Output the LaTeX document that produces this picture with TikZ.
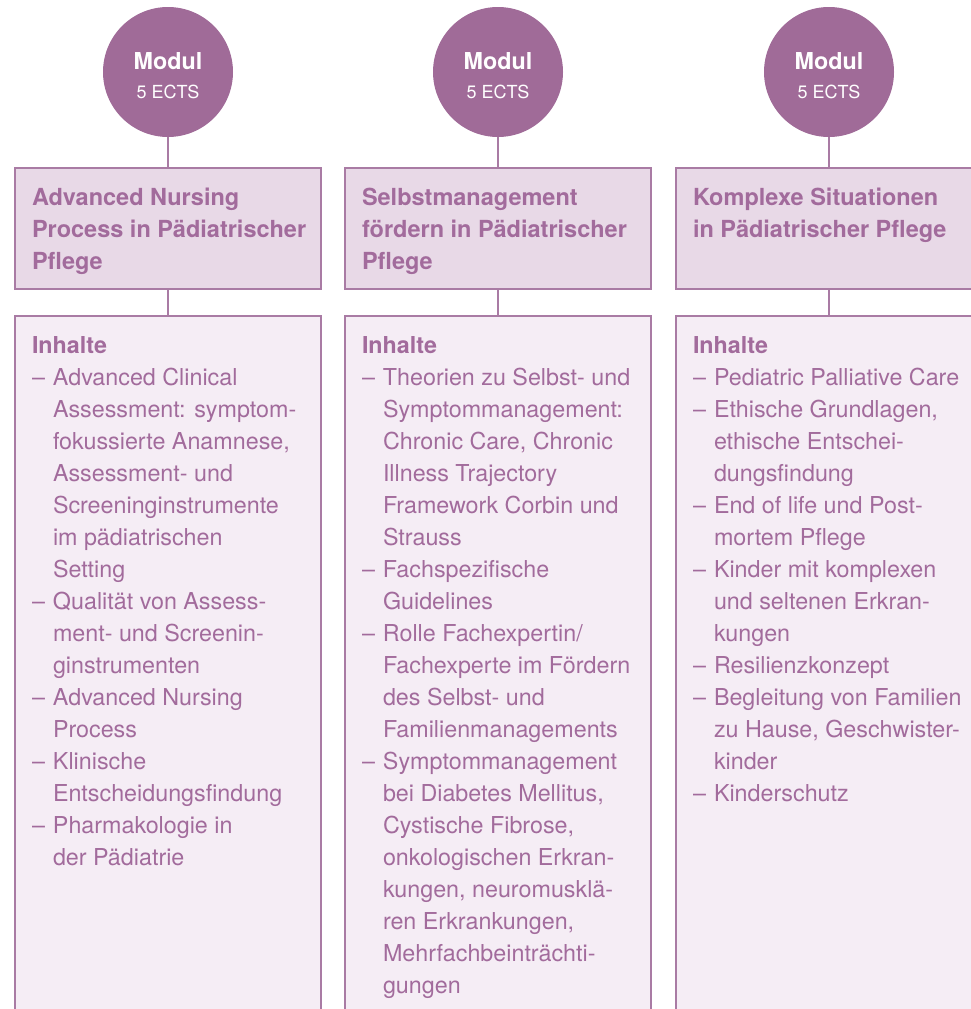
\documentclass[tikz,border=0pt]{standalone}
\usepackage{fontspec}
\setmainfont{TeX Gyre Heros}
\usetikzlibrary{positioning}

\definecolor{modulviolett}{HTML}{A06B98}
\definecolor{rahmenviolett}{HTML}{A97BA4}
\definecolor{titelfuell}{HTML}{E8D9E7}
\definecolor{inhaltfuell}{HTML}{F5EDF5}
\definecolor{schriftviolett}{HTML}{A26B9C}

\newcommand{\titelbox}[1]{\parbox[c][91pt][t]{272pt}{\begin{tabular}[t]{@{}l@{}}#1\end{tabular}}}
\newcommand{\inhaltbox}[1]{\parbox[c][684pt][t]{272pt}{\begin{tabular}[t]{@{}p{21pt}@{}l@{}}\multicolumn{2}{@{}l@{}}{\bfseries Inhalte}\\#1\end{tabular}}}

\begin{document}
\begin{tikzpicture}[x=1pt, y=-1pt,
		modul/.style={circle, fill=modulviolett, minimum size=130pt, inner sep=0pt, text=white, align=center, text height=52pt, text depth=0pt, font=\fontsize{23.3}{29}\selectfont},
		titel/.style={rectangle, draw=rahmenviolett, line width=2pt, fill=titelfuell, minimum width=306pt, minimum height=121pt, inner xsep=17pt, inner ysep=15pt, text=schriftviolett, font=\fontsize{23.5}{32}\selectfont\bfseries},
		inhalt/.style={rectangle, draw=rahmenviolett, line width=2pt, fill=inhaltfuell, minimum width=306pt, minimum height=714pt, inner xsep=17pt, inner ysep=15pt, text=schriftviolett, font=\fontsize{23.3}{32}\selectfont},
		verbindung/.style={draw=rahmenviolett, line width=2pt}]
		\useasboundingbox (0,0) rectangle (971,1009);

		\node [modul] (M1) at (168,72) {\textbf{Modul}\\{\fontsize{18}{29}\selectfont 5 ECTS}};
		\node [modul] (M2) at (498,72) {\textbf{Modul}\\{\fontsize{18}{29}\selectfont 5 ECTS}};
		\node [modul] (M3) at (829,72) {\textbf{Modul}\\{\fontsize{18}{29}\selectfont 5 ECTS}};

		\node [titel, below=30pt of M1] (T1) {\titelbox{Advanced Nursing\\Process in Pädiatrischer\\Pflege}};
		\node [titel, below=30pt of M2] (T2) {\titelbox{Selbstmanagement\\fördern in Pädiatrischer\\Pflege}};
		\node [titel, below=30pt of M3] (T3) {\titelbox{Komplexe Situationen\\in Pädiatrischer Pflege}};

		\node [inhalt, below=25pt of T1] (I1) {\inhaltbox{%
			– & Advanced Clinical\\
			  & Assessment: symptom-\\
			  & fokussierte Anamnese,\\
			  & Assessment- und\\
			  & Screeninginstrumente\\
			  & im pädiatrischen\\
			  & Setting\\
			– & Qualität von Assess-\\
			  & ment- und Screenin-\\
			  & ginstrumenten\\
			– & Advanced Nursing\\
			  & Process\\
			– & Klinische\\
			  & Entscheidungsfindung\\
			– & Pharmakologie in\\
			  & der Pädiatrie}};
		\node [inhalt, below=25pt of T2] (I2) {\inhaltbox{%
			– & Theorien zu Selbst- und\\
			  & Symptommanagement:\\
			  & Chronic Care, Chronic\\
			  & Illness Trajectory\\
			  & Framework Corbin und\\
			  & Strauss\\
			– & Fachspezifische\\
			  & Guidelines\\
			– & Rolle Fachexpertin/\\
			  & Fachexperte im Fördern\\
			  & des Selbst- und\\
			  & Familienmanagements\\
			– & Symptommanagement\\
			  & bei Diabetes Mellitus,\\
			  & Cystische Fibrose,\\
			  & onkologischen Erkran-\\
			  & kungen, neuromusklä-\\
			  & ren Erkrankungen,\\
			  & Mehrfachbeinträchti-\\
			  & gungen}};
		\node [inhalt, below=25pt of T3] (I3) {\inhaltbox{%
			– & Pediatric Palliative Care\\
			– & Ethische Grundlagen,\\
			  & ethische Entschei-\\
			  & dungsfindung\\
			– & End of life und Post-\\
			  & mortem Pflege\\
			– & Kinder mit komplexen\\
			  & und seltenen Erkran-\\
			  & kungen\\
			– & Resilienzkonzept\\
			– & Begleitung von Familien\\
			  & zu Hause, Geschwister-\\
			  & kinder\\
			– & Kinderschutz}};

		\path[verbindung] (M1) edge (T1) (T1) edge (I1);
		\path[verbindung] (M2) edge (T2) (T2) edge (I2);
		\path[verbindung] (M3) edge (T3) (T3) edge (I3);
	\end{tikzpicture}
\end{document}
